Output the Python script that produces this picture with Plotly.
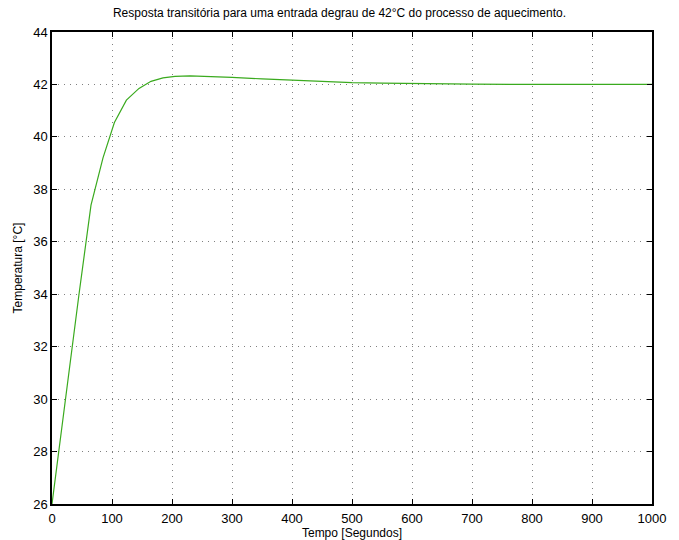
import plotly.graph_objects as go

# Step response samples: time [s] and temperature [°C]
tempo = [0, 22, 45, 65, 85, 104, 124, 145, 165, 185, 205, 230, 260, 300,
         350, 400, 450, 500, 550, 600, 650, 700, 800, 900, 1000]
temperatura = [26.0, 30.0, 34.0, 37.4, 39.2, 40.55, 41.4, 41.85, 42.12, 42.25,
               42.31, 42.33, 42.31, 42.27, 42.21, 42.16, 42.11, 42.07, 42.05,
               42.03, 42.02, 42.01, 42.0, 42.0, 42.0]

x_ticks = list(range(0, 1001, 100))
y_ticks = list(range(26, 45, 2))

FONT = "Liberation Sans, Arial, sans-serif"

fig = go.Figure()
fig.add_trace(go.Scatter(
    x=tempo, y=temperatura, mode="lines",
    line=dict(color="#3aaa1e", width=1.2),
    showlegend=False,
))

axis_common = dict(
    showline=True, linecolor="black", linewidth=1.5, mirror="ticks",
    ticks="inside", ticklen=5, tickwidth=1, tickcolor="black",
    showgrid=True, gridcolor="#808080", griddash="1px,5px", gridwidth=1,
    zeroline=False, automargin=False,
    tickfont=dict(family=FONT, size=13, color="black"),
)

fig.update_layout(
    width=679, height=540,
    margin=dict(l=52, r=27, t=32, b=36),
    paper_bgcolor="white", plot_bgcolor="white",
    title=dict(
        text="Resposta transitória para uma entrada degrau de 42°C do processo de aquecimento.",
        x=0.5, xanchor="center", y=0.976, yanchor="middle",
        font=dict(family=FONT, size=12, color="black"),
    ),
    xaxis=dict(
        range=[0, 1000], tickvals=x_ticks, ticklabelstandoff=2,
        title=dict(text="Tempo [Segundos]", standoff=2,
                   font=dict(family=FONT, size=12, color="black")),
        **axis_common,
    ),
    yaxis=dict(
        range=[26, 44], tickvals=y_ticks,
        title=dict(text="Temperatura [°C]", standoff=8,
                   font=dict(family=FONT, size=12, color="black")),
        **axis_common,
    ),
)

fig.write_html("out.html")
